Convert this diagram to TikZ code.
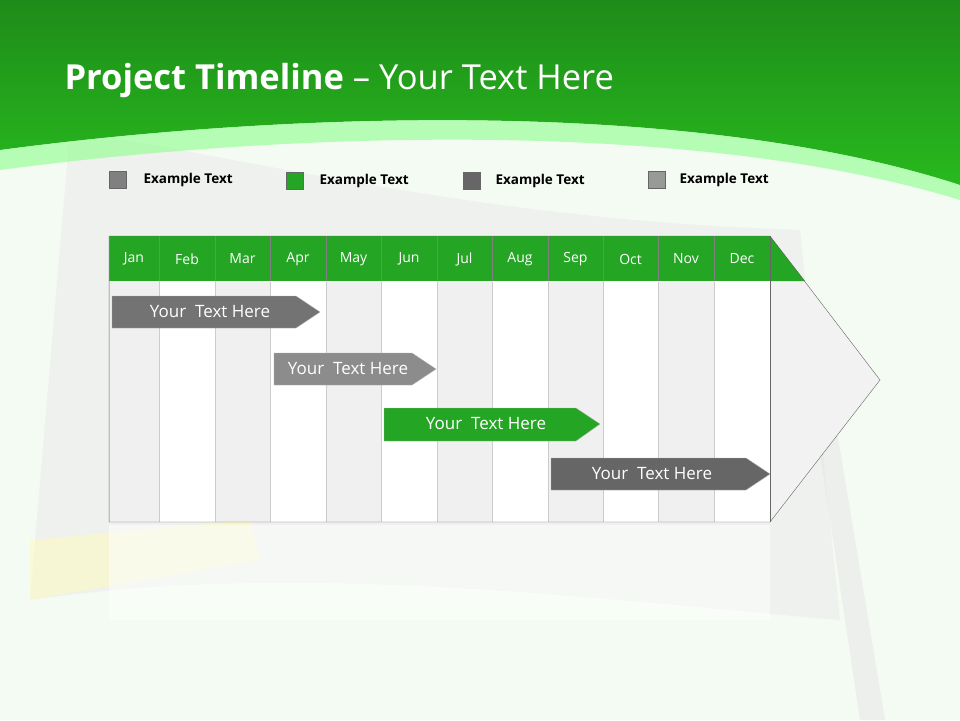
\documentclass[tikz,border=0pt]{standalone}
\usepackage{fontspec}
\setmainfont{Open Sans}
\definecolor{gtop}{RGB}{30,140,25}
\definecolor{gmid}{RGB}{40,185,30}
\definecolor{ghdr}{RGB}{36,165,36}
\definecolor{bgc}{RGB}{244,251,242}
\begin{document}
\begin{tikzpicture}[x=1pt,y=-1pt,
  hdr/.style={font=\fontsize{14}{16}\selectfont,text=white},
  leg/.style={font=\bfseries\fontsize{13.5}{15}\selectfont,anchor=west},
  sq/.style={draw=black!60,minimum size=17pt,inner sep=0pt},
  bar/.style={font=\fontsize{17}{19}\selectfont,text=white}]
\useasboundingbox (0,0) rectangle (960,720);
\fill[bgc] (0,0) rectangle (960,720);
% faint flag ghost
\fill[black!8,opacity=.6] (70,130) .. controls (300,170) and (500,220) .. (800,230) -- (840,620) .. controls (600,600) and (300,560) .. (30,600) -- cycle;
\fill[yellow!25,opacity=.5] (30,540) -- (250,520) -- (260,560) -- (30,600) -- cycle;
\fill[black!10,opacity=.5] (815,420) -- (835,420) -- (885,720) -- (860,720) -- cycle;
% banner
\shade[top color=gtop,bottom color=gmid] (0,0) -- (960,0) -- (960,185) .. controls (700,100) and (300,110) .. (0,150) -- cycle;
\fill[green!45!white,opacity=.6] (0,150) .. controls (300,110) and (700,100) .. (960,185) -- (960,200) .. controls (700,120) and (300,130) .. (0,170) -- cycle;
\node[anchor=west,text=white,font=\fontsize{34.5}{38}\selectfont] (title) at (61,81) {\textbf{Project Timeline} – Your Text Here};
% legend
\node[sq,fill=black!50] (l1) at (118,180) {}; \node[leg] (t1) at (140,180) {Example Text};
\node[sq,fill=ghdr] (l2) at (295,181) {}; \node[leg] (t2) at (316,181) {Example Text};
\node[sq,fill=black!60] (l3) at (472,181) {}; \node[leg] (t3) at (492,181) {Example Text};
\node[sq,fill=black!40] (l4) at (657,180) {}; \node[leg] (t4) at (676,180) {Example Text};
% table body
\fill[black!5] (770,236) -- (880,380) -- (770,522) -- cycle;
\def\xs{{109,159,215,270,326,381,437,492,548,603,658,714,770}}
\foreach \i/\m in {0/Jan,1/Feb,2/Mar,3/Apr,4/May,5/Jun,6/Jul,7/Aug,8/Sep,9/Oct,10/Nov,11/Dec}{
  \pgfmathsetmacro\xa{\xs[\i]}\pgfmathsetmacro\xb{\xs[\i+1]}
  \pgfmathtruncatemacro\pty{mod(\i,2)}
  \ifnum\pty=0 \fill[black!6] (\xa,281) rectangle (\xb,522);\else \fill[white] (\xa,281) rectangle (\xb,522);\fi
  \draw[black!20] (\xa,281) -- (\xa,522);
  \fill[ghdr] (\xa,236) rectangle (\xb,281);
  \draw[black!50] (\xa,236) -- (\xa,281);
  \node[hdr] (m\i) at ({(\xa+\xb)/2},259) {\m};
}
\fill[ghdr] (770,236) -- (805,281) -- (770,281) -- cycle;
\draw[black!60] (770,236) -- (770,522);
\draw[black!60] (109,236) -- (770,236) -- (880,380) -- (770,522) -- (109,522) -- cycle;
% reflection
\fill[white,opacity=.5] (109,525) rectangle (770,620);
% bars
\fill[black!55,draw=black!30] (112,296) -- (296,296) -- (320,312) -- (296,328) -- (112,328) -- cycle;
\node[bar] (b1) at (210,312) {Your\ \ Text Here};
\fill[black!45,draw=black!30] (274,353) -- (412,353) -- (436,369) -- (412,385) -- (274,385) -- cycle;
\node[bar] (b2) at (348,369) {Your\ \ Text Here};
\fill[ghdr,draw=black!30] (384,408) -- (576,408) -- (600,424) -- (576,441) -- (384,441) -- cycle;
\node[bar] (b3) at (486,424) {Your\ \ Text Here};
\fill[black!60,draw=black!30] (551,458) -- (746,458) -- (770,474) -- (746,490) -- (551,490) -- cycle;
\node[bar] (b4) at (652,474) {Your\ \ Text Here};
\end{tikzpicture}
\end{document}
